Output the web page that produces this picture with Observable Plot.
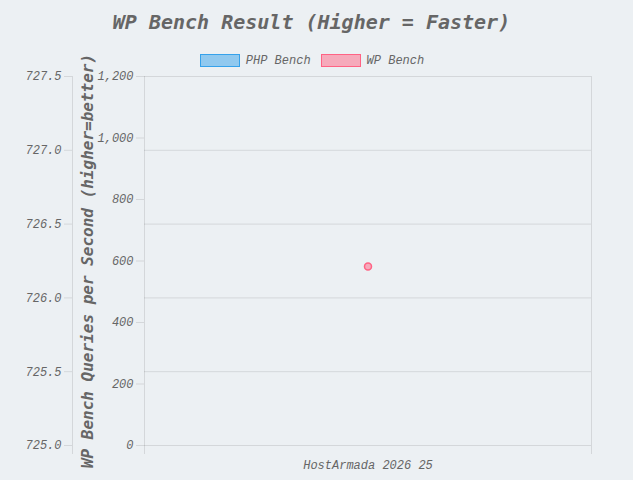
<!DOCTYPE html>
<html>
<head>
<meta charset="utf-8">
<script src="https://cdn.jsdelivr.net/npm/d3@7"></script>
<script src="https://cdn.jsdelivr.net/npm/@observablehq/plot@0.6"></script>
<style>
  html, body { margin: 0; padding: 0; background: #ecf0f3; }
  #wrap { width: 633px; height: 480px; position: relative; color: #666; }
  #title { height: 44px; padding-right: 10px; font: italic bold 20px "DejaVu Sans Mono", monospace; line-height: 44px; text-align: center; color: #666; }
  #legend { height: 23px; padding-top: 5px; padding-right: 9px; display: flex; justify-content: center; align-items: center; font: italic 12px "Liberation Mono", monospace; color: #666; }
  .item { display: flex; align-items: center; margin: 0 5px; }
  .sw { width: 38px; height: 11px; border: 1.5px solid; margin-right: 6px; }
  svg { overflow: visible; }
</style>
</head>
<body>
<div id="wrap">
  <div id="title"></div>
  <div id="legend"></div>
  <div id="chart"></div>
</div>
<script>
const title = "WP Bench Result (Higher = Faster)";
const yLabel = "WP Bench Queries per Second (higher=better)";
const categories = ["HostArmada 2026 25"];
const seriesNames = ["PHP Bench", "WP Bench"];
const seriesFill = ["rgba(54,162,235,0.5)", "rgba(255,99,132,0.5)"];
const seriesStroke = ["rgb(54,162,235)", "rgb(255,99,132)"];
const phpBench = [null];
const wpBench = [582];
const leftTicks = [725.0, 725.5, 726.0, 726.5, 727.0, 727.5];
const rightTicks = [0, 200, 400, 600, 800, 1000, 1200];

document.getElementById("title").textContent = title;
const legend = document.getElementById("legend");
seriesNames.forEach((name, i) => {
  const it = document.createElement("div");
  it.className = "item";
  const sw = document.createElement("div");
  sw.className = "sw";
  sw.style.background = seriesFill[i];
  sw.style.borderColor = seriesStroke[i];
  const t = document.createElement("span");
  t.textContent = name;
  it.appendChild(sw); it.appendChild(t);
  legend.appendChild(it);
});

// left (outer) axis is a linear re-mapping of the main y scale
const leftToY = d3.scaleLinear([leftTicks[0], leftTicks[leftTicks.length - 1]], [rightTicks[0], rightTicks[rightTicks.length - 1]]);

const data = categories.map((c, i) => ({category: c, wp: wpBench[i], php: phpBench[i]}));
const gridCol = "rgba(0,0,0,0.1)";
const axisFont = {fontFamily: "Liberation Mono, monospace", fontStyle: "italic", fontSize: 12, fill: "#666"};

const chart = Plot.plot({
  width: 633,
  height: 408,
  marginTop: 4,
  marginBottom: 35,
  marginLeft: 144,
  marginRight: 42,
  style: {background: "transparent", overflow: "visible"},
  x: {type: "band", domain: categories, padding: 0, axis: null, label: null},
  y: {domain: [rightTicks[0], rightTicks[rightTicks.length - 1]], axis: null, label: null},
  marks: [
    Plot.gridY(leftTicks.map(leftToY), {stroke: gridCol, strokeOpacity: 1}),
    Plot.frame({anchor: "left", insetBottom: -8, stroke: gridCol, strokeOpacity: 1}),
    Plot.frame({anchor: "right", insetBottom: -8, stroke: gridCol, strokeOpacity: 1}),
    Plot.frame({anchor: "left", insetLeft: -72, insetBottom: -8, stroke: gridCol, strokeOpacity: 1}),
    Plot.axisY(rightTicks, {label: null, tickSize: 8, tickPadding: 3, tickFormat: d3.format(","), stroke: gridCol, strokeOpacity: 1, ...axisFont}),
    Plot.axisY(leftTicks.map(leftToY), {label: null, dx: -72, tickSize: 8, tickPadding: 3, tickFormat: d => leftToY.invert(d).toFixed(1), stroke: gridCol, strokeOpacity: 1, ...axisFont}),
    Plot.axisX(categories, {label: null, tickSize: 0, tickPadding: 15, ...axisFont}),
    Plot.text([yLabel], {frameAnchor: "left", dx: -57, rotate: -90, textAnchor: "middle", fontFamily: "DejaVu Sans Mono, monospace", fontStyle: "italic", fontWeight: "bold", fontSize: 16, fill: "#666"}),
    Plot.dot(data.filter(d => d.wp != null), {x: "category", y: "wp", r: 3.5, fill: seriesFill[1], stroke: seriesStroke[1], strokeWidth: 1.5})
  ]
});
document.getElementById("chart").appendChild(chart);
</script>
</body>
</html>
